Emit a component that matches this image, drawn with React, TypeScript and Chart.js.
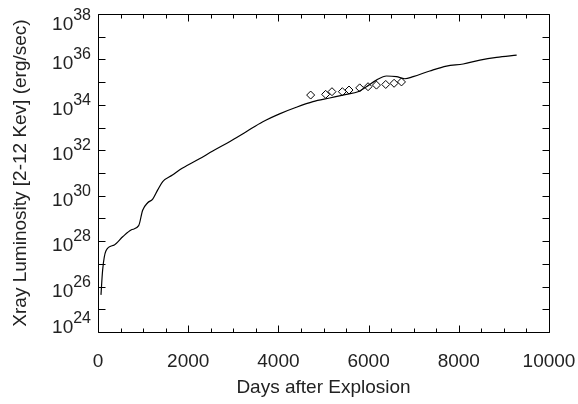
import React, { useEffect, useRef } from "react";
import { Chart, registerables } from "chart.js";

Chart.register(...registerables);

// Model light curve (days after explosion, X-ray luminosity erg/s)
const modelDays = [66, 103, 177, 362, 547, 733, 902, 990, 1102, 1213, 1324, 1435, 1650, 1805, 2250, 2545, 2917, 3287, 3655, 4026, 4397, 4766, 5137, 5507, 5765, 5951, 6174, 6396, 6618, 6802, 6987, 7357, 7728, 8097, 8468, 8838, 9283];
const modelLum = [4.3e25, 5.4e26, 3.8e27, 6.8e27, 1.55e28, 3.1e28, 4.8e28, 2.3e29, 4.9e29, 7.1e29, 1.8e30, 4.2e30, 8.1e30, 1.35e31, 4.2e31, 9.3e31, 2.4e32, 6.6e32, 1.8e33, 4.0e33, 7.8e33, 1.38e34, 2.0e34, 2.9e34, 3.8e34, 6.3e34, 1.23e35, 1.86e35, 1.74e35, 1.41e35, 1.74e35, 3.1e35, 5.1e35, 6.3e35, 9.3e35, 1.23e36, 1.55e36];

// Observations (diamonds)
const obsDays = [4715, 5048, 5188, 5418, 5566, 5803, 5988, 6174, 6380, 6565, 6729];
const obsLum = [2.7e34, 2.9e34, 3.8e34, 3.8e34, 4.5e34, 5.6e34, 6.3e34, 7.4e34, 7.9e34, 8.9e34, 1.02e35];

// Axis ticks
const xMajorTicks = [0, 2000, 4000, 6000, 8000, 10000];
const xMinorTicks = [500, 1000, 1500, 2500, 3000, 3500, 4500, 5000, 5500, 6500, 7000, 7500, 8500, 9000, 9500];
const yTickExponents = [24, 25, 26, 27, 28, 29, 30, 31, 32, 33, 34, 35, 36, 37, 38];
const yLabelExponents = [24, 26, 28, 30, 32, 34, 36, 38];

const xTitle = "Days after Explosion";
const yTitle = "Xray Luminosity [2-12 Kev] (erg/sec)";

const FONT = "'Liberation Sans', Arial, Helvetica, sans-serif";

const framePlugin = {
  id: "idlFrame",
  afterDraw(chart: any) {
    const { ctx, chartArea: a, scales } = chart;
    const xs = scales.x;
    const ys = scales.y;
    const L = Math.round(a.left) + 0.5;
    const R = Math.round(a.right) + 0.5;
    const T = Math.round(a.top) + 0.5;
    const B = Math.round(a.bottom) + 0.5;
    ctx.save();
    ctx.strokeStyle = "#000";
    ctx.lineWidth = 1;
    ctx.beginPath();
    ctx.rect(L, T, R - L, B - T);
    // x ticks (bottom and top, inward)
    const xt = (v: number, len: number) => {
      const px = Math.round(xs.getPixelForValue(v)) + 0.5;
      ctx.moveTo(px, B);
      ctx.lineTo(px, B - len);
      ctx.moveTo(px, T);
      ctx.lineTo(px, T + len);
    };
    xMajorTicks.forEach((v) => xt(v, 7));
    xMinorTicks.forEach((v) => xt(v, 4));
    // y ticks (left and right, inward)
    yTickExponents.forEach((e) => {
      const py = Math.round(ys.getPixelForValue(Math.pow(10, e))) + 0.5;
      ctx.moveTo(L, py);
      ctx.lineTo(L + 7, py);
      ctx.moveTo(R, py);
      ctx.lineTo(R - 7, py);
    });
    ctx.stroke();

    ctx.fillStyle = "#222";
    // x tick labels
    ctx.font = "19px " + FONT;
    ctx.textAlign = "center";
    ctx.textBaseline = "alphabetic";
    xMajorTicks.forEach((v) => {
      ctx.fillText(String(v), xs.getPixelForValue(v), 367);
    });
    // x title
    ctx.fillText(xTitle, (a.left + a.right) / 2, 393);

    // y tick labels 10^n
    yLabelExponents.forEach((e) => {
      const tick = ys.getPixelForValue(Math.pow(10, e));
      let shift = 0;
      const expTop = tick - 11.5;
      if (expTop < 8.5) shift = 8.5 - expTop;
      const baseBottom = tick + 10;
      if (baseBottom + shift > 333) shift = 333 - baseBottom;
      const expStr = String(e);
      ctx.textAlign = "right";
      ctx.font = "16px " + FONT;
      const rightEdge = a.left - 7;
      ctx.fillText(expStr, rightEdge, tick + shift);
      const ew = ctx.measureText(expStr).width;
      ctx.font = "19px " + FONT;
      ctx.fillText("10", rightEdge - ew, tick + 10 + shift);
    });

    // y title
    ctx.save();
    ctx.translate(26, (a.top + a.bottom) / 2);
    ctx.rotate(-Math.PI / 2);
    ctx.textAlign = "center";
    ctx.font = "19px " + FONT;
    ctx.fillText(yTitle, 0, 0);
    ctx.restore();

    ctx.restore();
  },
};

export default function App() {
  const ref = useRef<HTMLCanvasElement | null>(null);
  useEffect(() => {
    if (!ref.current) return;
    const chart = new Chart(ref.current, {
      type: "scatter",
      data: {
        datasets: [
          {
            label: "model",
            data: modelDays.map((d, i) => ({ x: d, y: modelLum[i] })),
            showLine: true,
            borderColor: "#000",
            borderWidth: 1.2,
            pointRadius: 0,
            cubicInterpolationMode: "monotone",
          },
          {
            label: "observed",
            data: obsDays.map((d, i) => ({ x: d, y: obsLum[i] })),
            showLine: false,
            pointStyle: "rectRot",
            pointRadius: 4,
            borderColor: "#000",
            borderWidth: 1,
            backgroundColor: "rgba(0,0,0,0)",
          },
        ],
      },
      options: {
        responsive: false,
        animation: false,
        layout: { padding: { left: 98, right: 29, top: 14, bottom: 72 } },
        plugins: { legend: { display: false }, tooltip: { enabled: false } },
        scales: {
          x: { type: "linear", min: 0, max: 10000, display: false },
          y: { type: "logarithmic", min: 1e24, max: 1e38, display: false },
        },
      },
      plugins: [framePlugin],
    });
    return () => chart.destroy();
  }, []);
  return (
    <div style={{ position: "fixed", left: 0, top: 0, width: 578, height: 404, background: "#fff" }}>
      <canvas ref={ref} width={578} height={404} />
    </div>
  );
}
